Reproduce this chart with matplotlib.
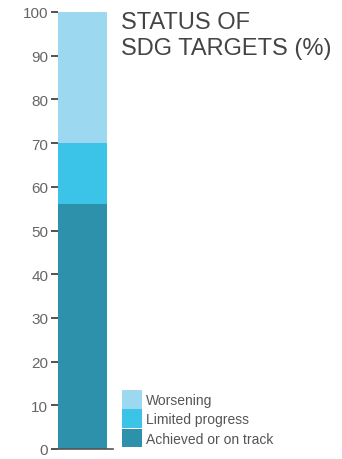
import matplotlib
matplotlib.use("Agg")
import matplotlib.pyplot as plt
from matplotlib.patches import Patch
from matplotlib import font_manager

# Stacked shares of SDG targets by status (%)
categories = ["Achieved or on track", "Limited progress", "Worsening"]
values = [56, 14, 30]
colors = ["#2e91ab", "#3cc3e8", "#9dd8f1"]
yticks = [0, 10, 20, 30, 40, 50, 60, 70, 80, 90, 100]

names = {f.name for f in font_manager.fontManager.ttflist}
narrow = "Liberation Sans Narrow" if "Liberation Sans Narrow" in names else "Liberation Sans"

fig = plt.figure(figsize=(3.42, 4.6), dpi=100)
ax = fig.add_axes([58 / 342, 1 - 450 / 460, 55 / 342, 437 / 460])

bottom = 0
for cat, v, c in zip(categories, values, colors):
    ax.bar(0, v, width=49 / 55, bottom=bottom, align="edge", color=c, label=cat)
    bottom += v

ax.set_xlim(0, 1)
ax.set_ylim(0, 100)
ax.set_yticks(yticks)
ax.set_xticks([])
for s in ["top", "right", "left"]:
    ax.spines[s].set_visible(False)
ax.spines["bottom"].set_color("#555555")
ax.spines["bottom"].set_linewidth(1.2)
ax.tick_params(axis="y", length=5, width=1.3, color="#444444", pad=2,
               labelsize=11, labelcolor="#666666")
for lab in ax.get_yticklabels():
    lab.set_family("Liberation Sans")

fig.text(121 / 342, 1 - 12 / 460, "STATUS OF\nSDG TARGETS (%)", ha="left", va="top",
         fontsize=17, color="#444444", family="Liberation Sans", linespacing=1.22)

handles = [Patch(facecolor=c, label=cat) for cat, c in zip(categories, colors)][::-1]
leg = fig.legend(handles=handles, loc="lower left",
                 bbox_to_anchor=(116 / 342, 1 - 454 / 460), frameon=False,
                 handlelength=1.45, handleheight=1.7, handletextpad=0.3,
                 labelspacing=0.05, borderaxespad=0,
                 prop={"family": narrow, "size": 10})
for t in leg.get_texts():
    t.set_color("#555555")

fig.savefig("out.png", dpi=100)
